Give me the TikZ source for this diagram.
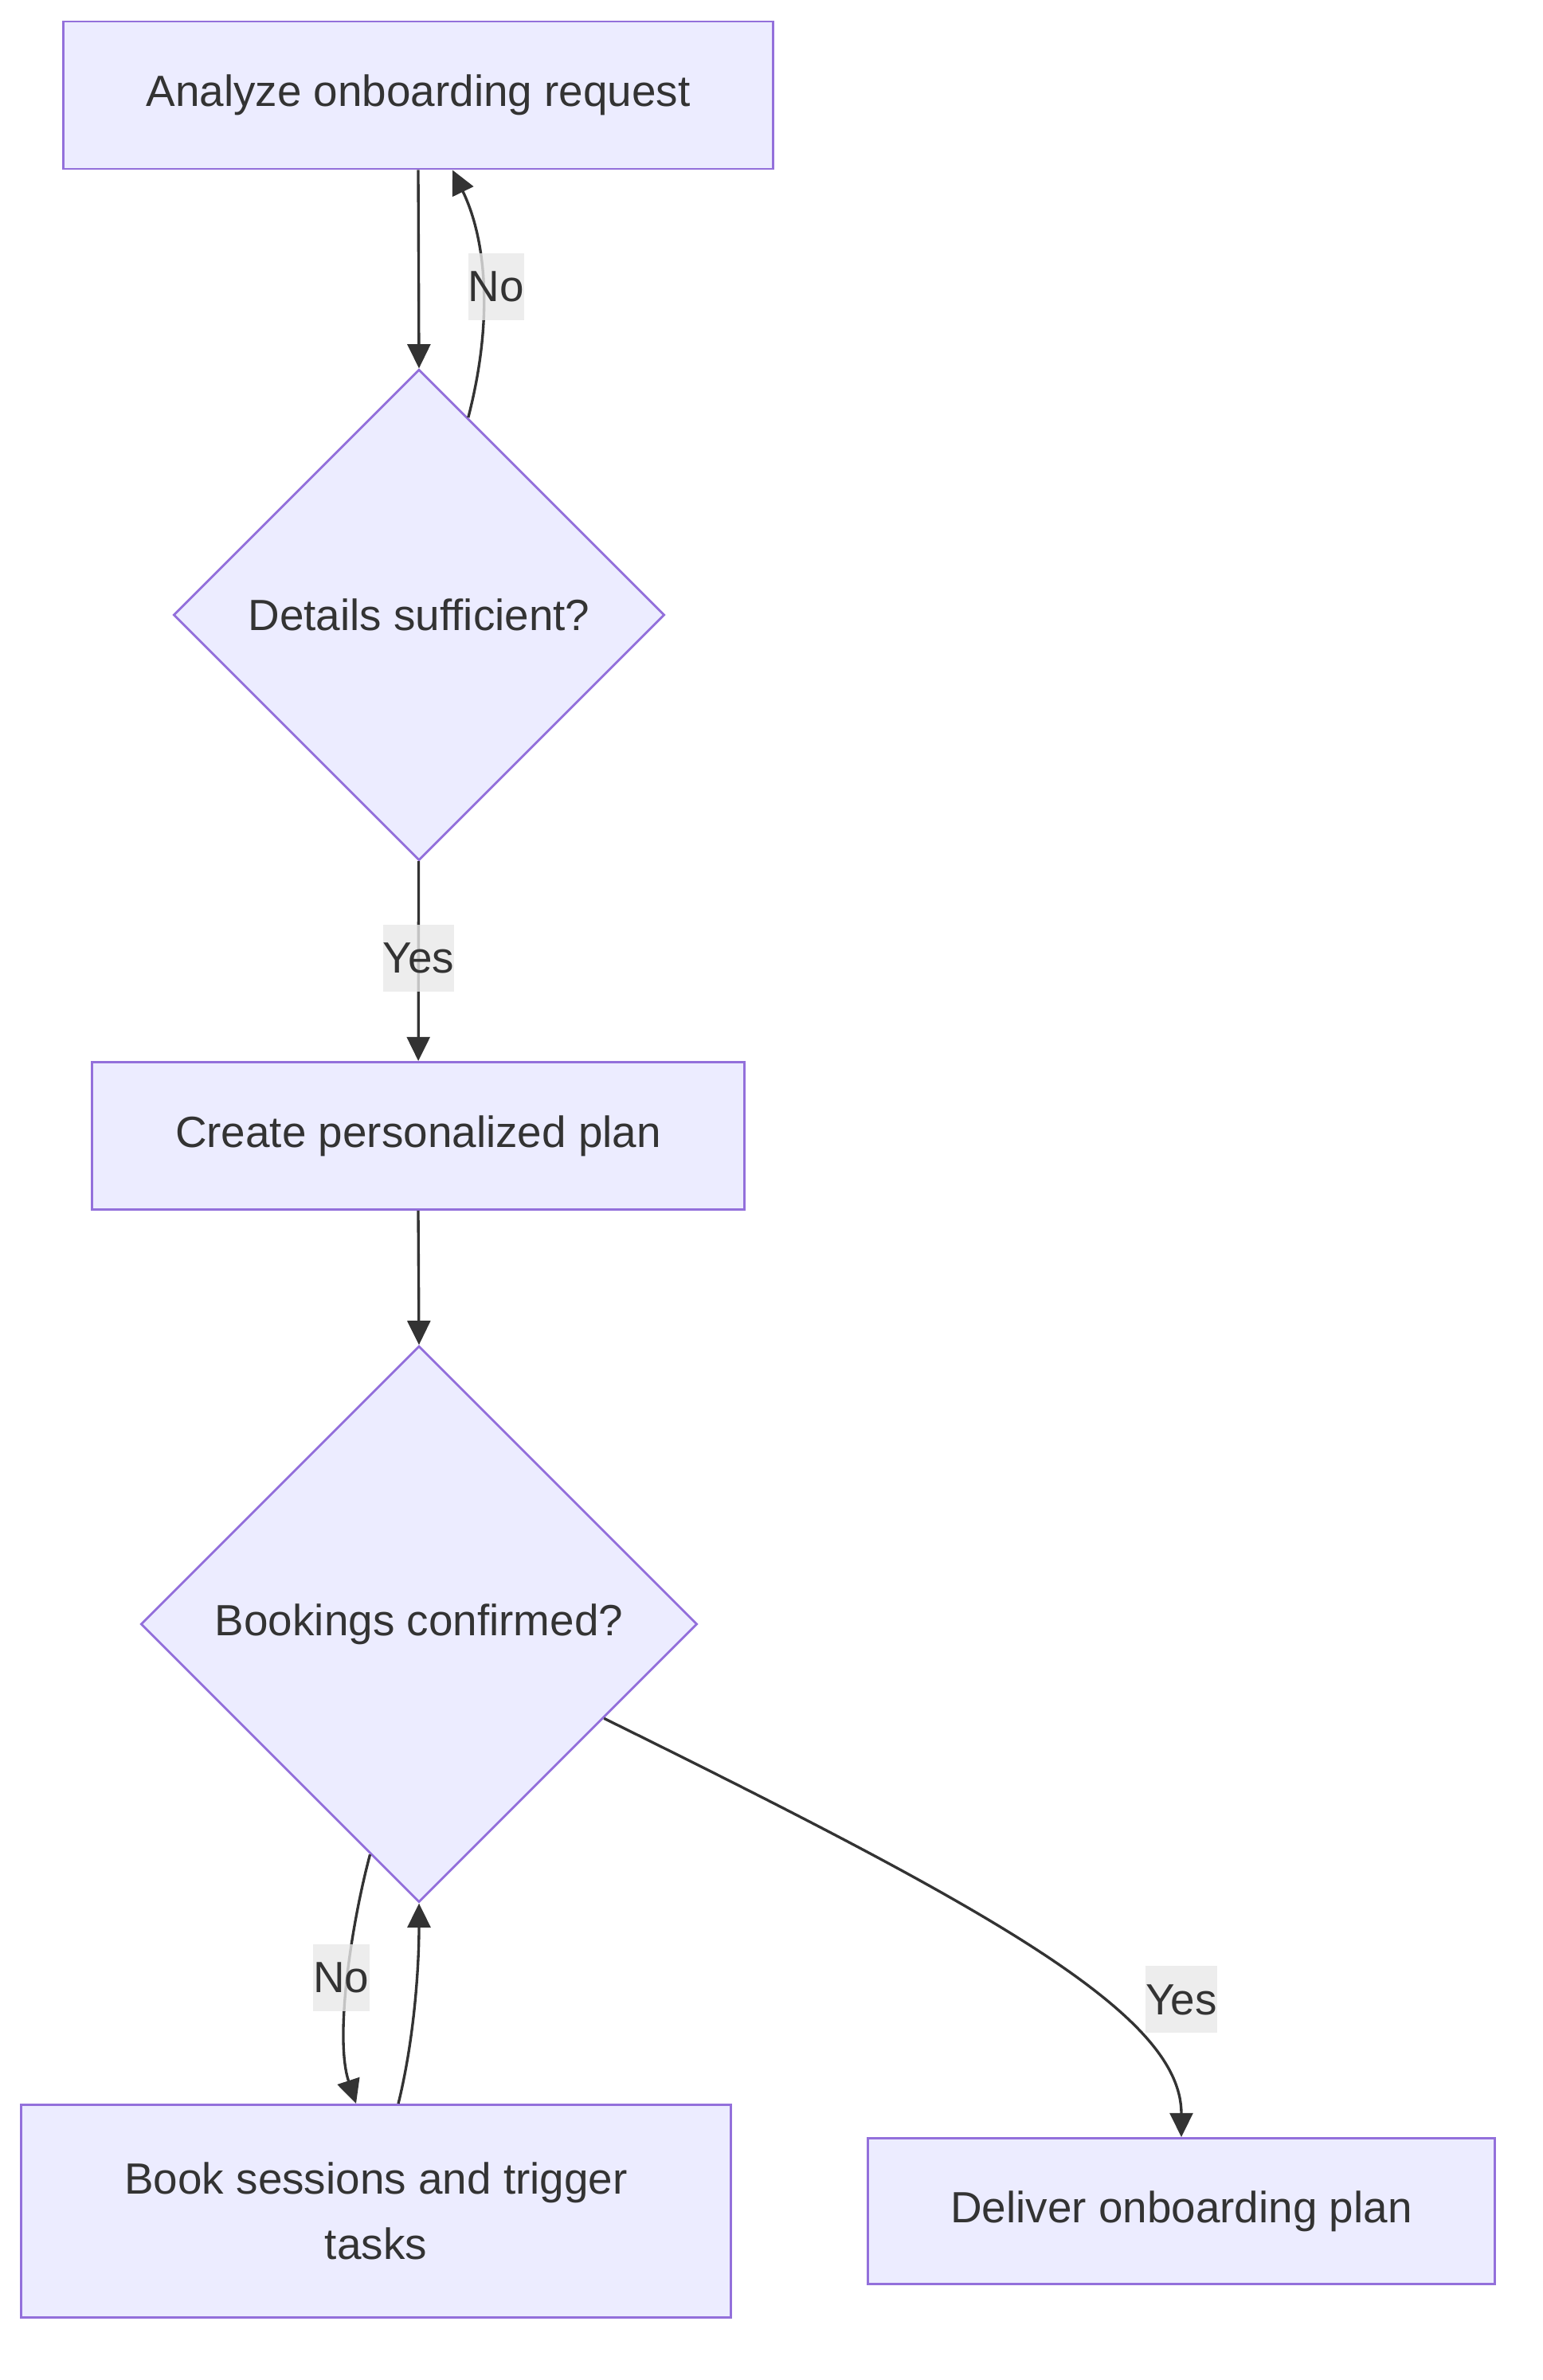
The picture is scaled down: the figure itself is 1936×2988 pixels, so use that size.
\documentclass[tikz,border=0pt]{standalone}
\usepackage{fontspec}
\setmainfont{Liberation Sans}
\usepackage{xcolor}
\usetikzlibrary{arrows.meta,shapes.geometric}
\definecolor{boxfill}{HTML}{ECECFF}
\definecolor{boxline}{HTML}{9370DB}
\definecolor{ink}{HTML}{333333}
\definecolor{lblgray}{HTML}{E8E8E8}

\begin{document}
\begin{tikzpicture}[x=0.01cm,y=-0.01cm,font=\fontsize{15.6}{23.3}\selectfont,text=ink,
  >={Triangle[length=8.6pt,width=8.2pt]},
  stepbox/.style={draw=boxline,fill=boxfill,line width=0.8pt,inner sep=0pt,align=center},
  choice/.style={diamond,aspect=1,draw=boxline,fill=boxfill,line width=0.8pt,inner sep=0pt},
  flow/.style={->,draw=ink,line width=0.95pt},
  lbl/.style={fill=lblgray,fill opacity=0.8,text opacity=1,inner sep=0pt,minimum height=0.84cm}]
  \useasboundingbox (0,0) rectangle (1936,2988);
  % steps and checks
  \node[stepbox,minimum width=8.9cm,minimum height=1.85cm] (analyze) at (525,119.5) {Analyze onboarding request};
  \node[choice,minimum size=6.16cm] (details) at (526,772) {Details sufficient?};
  \node[stepbox,minimum width=8.18cm,minimum height=1.85cm] (plan) at (525,1426) {Create personalized plan};
  \node[choice,minimum size=6.98cm] (booked) at (526,2039) {Bookings confirmed?};
  \node[stepbox,minimum width=8.91cm,minimum height=2.67cm] (book) at (472,2776) {Book sessions and trigger\\tasks};
  \node[stepbox,minimum width=7.87cm,minimum height=1.83cm] (deliver) at (1483,2776) {Deliver onboarding plan};
  % connectors
  \foreach \a/\b in {analyze/details,plan/booked}
    \draw[flow] (\a.south) -- (\b.north);
  \draw[flow] (details) -- node[lbl,yshift=0.04cm] (yes1) {Yes} (plan);
  \draw[flow] (details.76.7) .. controls (620,400) and (610,300) .. ([xshift=0.43cm]analyze.south)
    node[lbl,pos=0.5,xshift=0.17cm,yshift=-0.05cm] (no1) {No};
  \draw[flow] (booked.-102.3) .. controls (440,2420) and (420,2560) .. ([xshift=-0.25cm]book.north)
    node[lbl,pos=0.5,xshift=-0.08cm,yshift=0.06cm] (no2) {No};
  \draw[flow] ([xshift=0.28cm]book.north) .. controls (520,2560) and (526,2470) .. (booked.south);
  \draw[flow] (booked.-27) .. controls (1250,2400) and (1483,2530) .. (deliver.north)
    node[lbl,pos=0.75,xshift=0.44cm,yshift=0.6cm] (yes2) {Yes};
\end{tikzpicture}
\end{document}
